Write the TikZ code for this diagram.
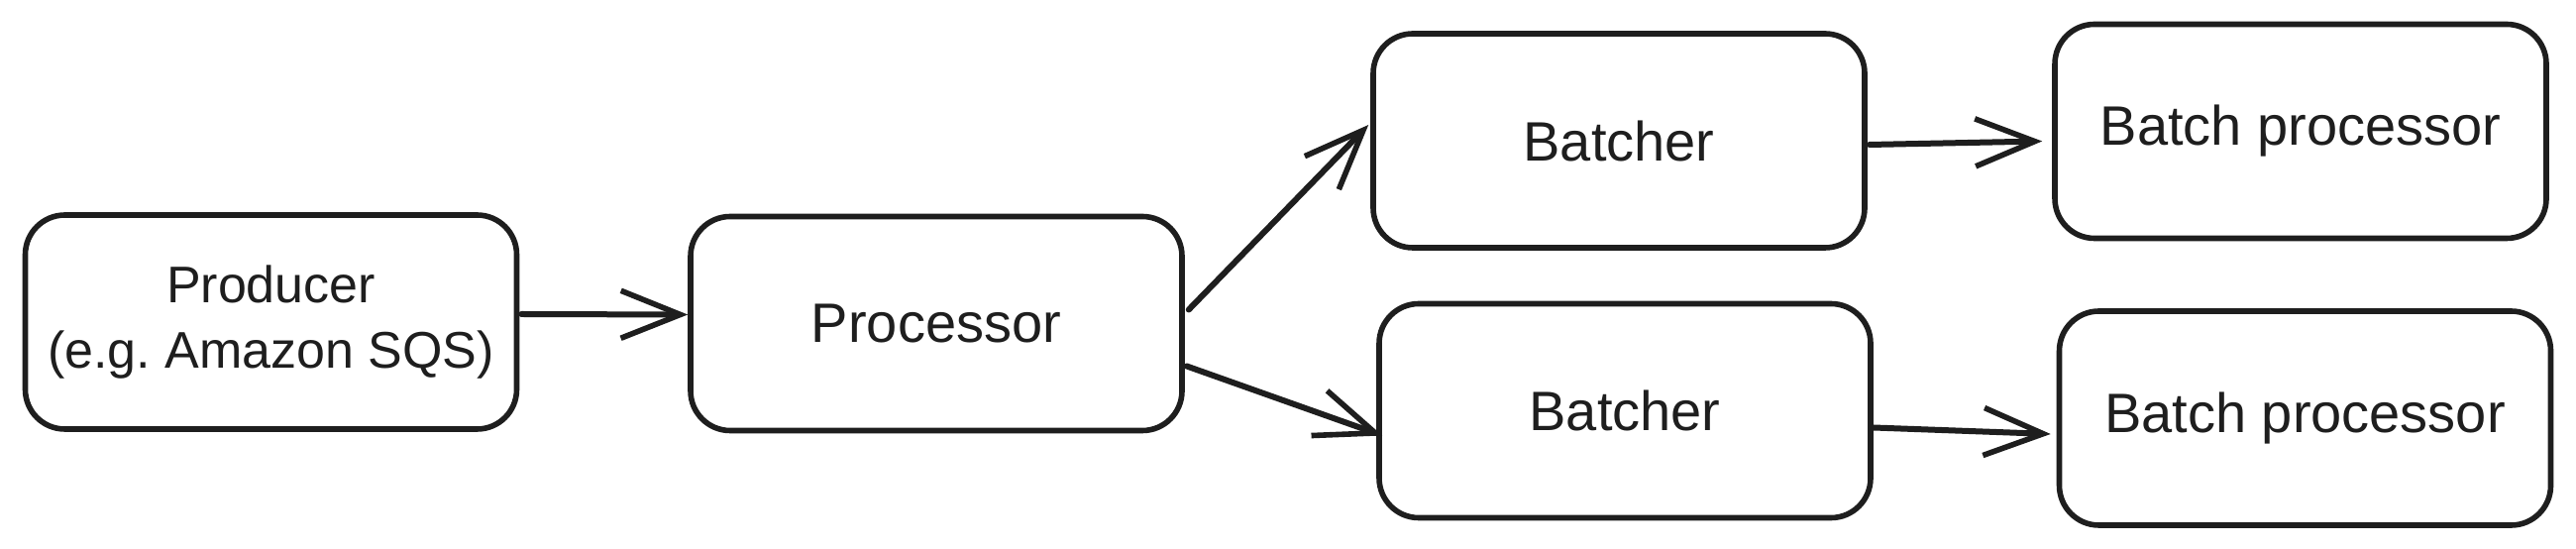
\documentclass[tikz,border=0pt]{standalone}
\usepackage{fontspec}
\setmainfont{Liberation Sans}
\usetikzlibrary{arrows.meta,calc}
\definecolor{ink}{HTML}{1E1E1E}
\frenchspacing
\begin{document}
\begin{tikzpicture}[x=0.25pt,y=-0.25pt,
  box/.style={draw=ink, line width=1.4pt, rounded corners=10pt,
    minimum width=124pt, minimum height=54pt, inner sep=0pt,
    align=center, text=ink, font=\fontsize{14}{16.5}\selectfont},
  link/.style={draw=ink, line width=1.5pt, line cap=round,
    -{Straight Barb[length=15pt,width=12pt,line width=1.4pt]}}]
\useasboundingbox[fill=white] (0,0) rectangle (2600,554);
\node[box, font=\fontsize{13}{16.5}\selectfont] (prod) at (273.5,325) {Producer\\(e.g. Amazon SQS)};
\node[box] (proc) at (945,326.5) {Processor};
\node[box] (bt) at (1634,142) {Batcher};
\node[box] (bb) at (1640,414.5) {Batcher};
\node[box] (bpt) at (2322,132.5) {Batch processor};
\node[box] (bpb) at (2326.5,422) {Batch processor};
\draw[link] ($(prod.east)+(2,-8)$) -- ($(proc.west)+(0,-9)$);
\draw[link] ($(proc.east)+(4,-14)$) -- ($(bt.west)+(-2,-16)$);
\draw[link] ($(proc.east)+(2,43)$) -- ($(bb.west)+(6,25)$);
\draw[link] ($(bt.east)+(2,4)$) -- ($(bpt.west)+(-10,10)$);
\draw[link] ($(bb.east)+(0,17)$) -- ($(bpb.west)+(-6,16)$);
\end{tikzpicture}
\end{document}
